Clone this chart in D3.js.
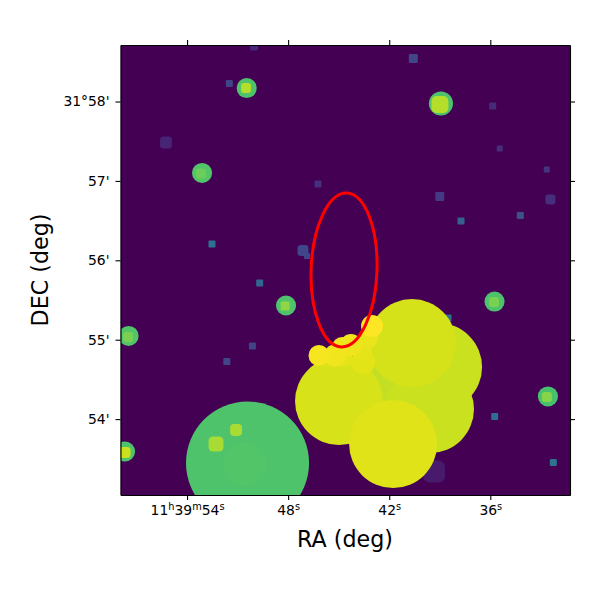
<!DOCTYPE html>
<html>
<head>
<meta charset="UTF-8">
<script src="https://d3js.org/d3.v7.min.js"></script>
<style>
  html, body { margin: 0; padding: 0; background: #fff; }
  text { font-family: "DejaVu Sans", sans-serif; fill: #000; }
  .tick text { font-size: 13.9px; }
  .tick line, .domain { stroke: #000; stroke-width: 1.1px; }
</style>
</head>
<body>
<svg id="chart" width="600" height="600"></svg>
<script>
// tick labels
var raTicks = [54, 48, 42, 36];
var decTicks = [58, 57, 56, 55, 54];

// round sources: RA seconds (11h39m + s), DEC arcmin (31deg + '), radius arcsec, colour level 0-1
var circleRa = [50.41, 50.56, 50.46, 38.93, 53.11, 48.125, 57.47, 57.68, 35.75, 32.58,
  41.66, 39.10, 39.58, 40.65, 44.98, 41.77,
  43.55, 43.61, 43.26, 44.68, 46.17, 45.22, 44.80, 44.27, 43.02];
var circleDec = [53.447, 53.435, 58.17, 57.975, 57.10, 55.431, 55.047, 53.592, 55.481, 54.285,
  54.43, 54.656, 54.127, 54.958, 54.228, 53.686,
  54.719, 54.845, 55.021, 54.77, 54.801, 54.801, 54.908, 54.933, 55.173];
var circleRadius = [46.5, 16.6, 7.6, 9.1, 7.6, 7.6, 7.6, 7.6, 7.6, 7.6,
  30.2, 33.25, 33.25, 33.25, 33.25, 33.25,
  9.1, 7.6, 7.6, 6.8, 7.9, 8.3, 7.6, 8.3, 8.3];
var circleLevel = [0.72, 0.73, 0.72, 0.72, 0.73, 0.72, 0.73, 0.72, 0.72, 0.71,
  0.91, 0.92, 0.92, 0.935, 0.94, 0.95,
  0.955, 0.96, 0.965, 0.96, 0.985, 0.98, 0.975, 0.975, 1.0];

// square sources: same columns, width in arcsec
var squareRa = [51.09, 52.28, 50.50, 38.99, 53.17, 48.18, 57.50, 57.68, 35.78, 32.64,
  51.49, 50.02, 55.25, 46.23, 52.52, 47.12, 46.88, 40.57, 35.86, 35.44, 32.65,
  39.00, 32.43, 37.74, 34.22, 49.69, 50.12, 51.64, 35.74, 32.26, 38.51, 39.34];
var squareDec = [53.863, 53.686, 58.17, 57.962, 57.093, 55.424, 55.034, 53.579, 55.475, 54.278,
  58.227, 58.693, 57.484, 56.961, 56.205, 56.123, 56.054, 58.542, 57.943, 57.408, 57.144,
  56.804, 56.766, 56.495, 56.564, 55.714, 54.921, 54.725, 54.033, 53.453, 55.273, 53.34];
var squareWidth = [9, 11.3, 7.6, 12.8, 7.6, 6.8, 7.6, 8.3, 7.6, 7.6,
  5.3, 6, 9, 5.3, 5.3, 8.3, 4.5, 6.8, 5.3, 4.5, 4.5,
  6.8, 7.6, 5.3, 5.3, 5.3, 5.3, 5.3, 5.3, 5.3, 5.3, 16.6];
var squareLevel = [0.87, 0.87, 0.89, 0.89, 0.775, 0.83, 0.8, 0.92, 0.8, 0.82,
  0.2, 0.11, 0.1, 0.14, 0.37, 0.21, 0.2, 0.21, 0.12, 0.13, 0.15,
  0.17, 0.13, 0.31, 0.25, 0.33, 0.2, 0.21, 0.36, 0.38, 0.36, 0.07];

// red region: centre, semi axes in arcsec, tilt in degrees
var regionRa = 44.68, regionDec = 55.878, regionMajor = 58.2, regionMinor = 24.9, regionTilt = 2;

var left = 120.5, right = 570, top_ = 45, bottom = 495;

var x = d3.scaleLinear().domain([57.95, 31.27]).range([left, right]);
var y = d3.scaleLinear().domain([58.712, 53.044]).range([top_, bottom]);

// arcsec on the sky to pixels, the image is square so DEC scale is enough
function sky(arcsec) { return y(0) - y(arcsec / 60); }

var svg = d3.select("#chart");

svg.append("clipPath").attr("id", "frame").append("rect")
  .attr("x", left).attr("y", top_).attr("width", right - left).attr("height", bottom - top_);

var plot = svg.append("g").attr("clip-path", "url(#frame)");

plot.append("rect")
  .attr("x", left).attr("y", top_).attr("width", right - left).attr("height", bottom - top_)
  .attr("fill", d3.interpolateViridis(0));

var sources = [];
circleRa.forEach(function (d, i) {
  sources.push({ kind: "circle", ra: d, dec: circleDec[i], size: circleRadius[i], level: circleLevel[i] });
});
squareRa.forEach(function (d, i) {
  sources.push({ kind: "square", ra: d, dec: squareDec[i], size: squareWidth[i], level: squareLevel[i] });
});
// brighter sources end up on top
sources.sort(function (a, b) { return a.level - b.level; });

sources.forEach(function (s) {
  var col = d3.interpolateViridis(s.level);
  if (s.kind == "circle") {
    plot.append("circle")
      .attr("cx", x(s.ra)).attr("cy", y(s.dec)).attr("r", sky(s.size))
      .attr("fill", col);
  } else {
    var w = sky(s.size);
    plot.append("rect")
      .attr("x", x(s.ra) - w / 2).attr("y", y(s.dec) - w / 2)
      .attr("width", w).attr("height", w)
      .attr("rx", w < 9 ? w * 0.14 : w * 0.3)
      .attr("fill", col);
  }
});

plot.append("ellipse")
  .attr("cx", 0).attr("cy", 0)
  .attr("rx", sky(regionMinor)).attr("ry", sky(regionMajor))
  .attr("transform", "translate(" + x(regionRa) + "," + y(regionDec) + ") rotate(" + regionTilt + ")")
  .attr("fill", "none").attr("stroke", "#ff0000").attr("stroke-width", 3);

// axes
var axBottom = svg.append("g").attr("transform", "translate(0," + bottom + ")")
  .call(d3.axisBottom(x).tickValues(raTicks).tickSize(5).tickSizeOuter(0).tickPadding(5));
svg.append("g").attr("transform", "translate(0," + top_ + ")")
  .call(d3.axisTop(x).tickValues(raTicks).tickSize(5).tickSizeOuter(0).tickFormat(""));
svg.append("g").attr("transform", "translate(" + left + ",0)")
  .call(d3.axisLeft(y).tickValues(decTicks).tickSize(5).tickSizeOuter(0).tickPadding(6)
    .tickFormat(function (d) { return d == 58 ? "31°58'" : d + "'"; }));
svg.append("g").attr("transform", "translate(" + right + ",0)")
  .call(d3.axisRight(y).tickValues(decTicks).tickSize(5).tickSizeOuter(0).tickFormat(""));

svg.selectAll(".domain").attr("fill", "none");

// RA labels need raised h, m and s
function raLabel(t, parts) {
  parts.forEach(function (p, i) {
    var raised = i % 2 == 1;
    t.append("tspan")
      .attr("dy", raised ? "-5px" : (i == 0 ? null : "5px"))
      .style("font-size", raised ? "9.8px" : null)
      .text(p);
  });
}
axBottom.selectAll(".tick text").each(function (d) {
  var t = d3.select(this).text("");
  if (d == 54) {
    raLabel(t, ["11", "h", "39", "m", "54", "s"]);
  } else {
    raLabel(t, [String(d), "s"]);
  }
});

svg.append("text")
  .attr("x", 345).attr("y", 547).attr("text-anchor", "middle")
  .style("font-size", "22.2px").text("RA (deg)");
svg.append("text")
  .attr("transform", "translate(48,270) rotate(-90)").attr("text-anchor", "middle")
  .style("font-size", "22.2px").text("DEC (deg)");
</script>
</body>
</html>
